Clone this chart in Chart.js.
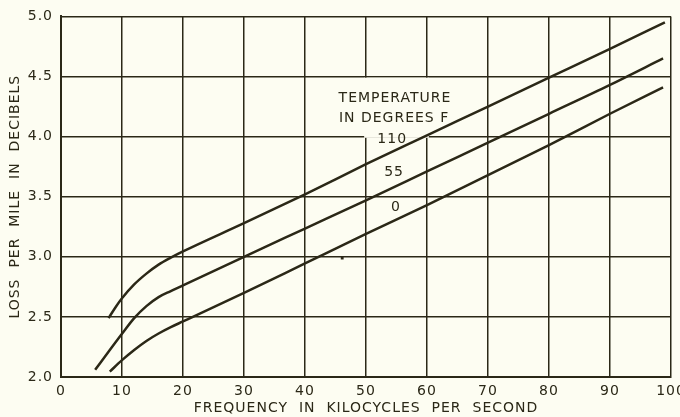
<!DOCTYPE html>
<html>
<head>
<meta charset="utf-8">
<script src="https://cdn.jsdelivr.net/npm/chart.js@4.4.1/dist/chart.umd.min.js"></script>
<style>
  html, body { margin: 0; padding: 0; background: #fdfdf2; }
  canvas { display: block; }
</style>
</head>
<body>
<canvas id="lossChart" width="680" height="417"></canvas>
<script>
// Curves: frequency in kc, loss in dB per mile
const freq110 = [7.8, 9, 10, 12, 14, 16, 18, 20, 30, 40, 50, 60, 70, 80, 90, 99];
const loss110 = [2.49, 2.585, 2.655, 2.77, 2.86, 2.935, 2.993, 3.045, 3.28, 3.52, 3.77, 4.01, 4.25, 4.49, 4.73, 4.95];

const freq55 = [5.6, 8, 10, 12, 14, 16, 18, 20, 30, 40, 50, 60, 70, 80, 90, 98.7];
const loss55 = [2.06, 2.225, 2.36, 2.49, 2.59, 2.665, 2.715, 2.762, 3.0, 3.235, 3.47, 3.71, 3.95, 4.19, 4.43, 4.65];

const freq0 = [8, 10, 12, 14, 16, 18, 20, 30, 40, 50, 60, 70, 80, 90, 98.7];
const loss0 = [2.045, 2.14, 2.225, 2.30, 2.362, 2.415, 2.462, 2.70, 2.945, 3.19, 3.43, 3.68, 3.93, 4.19, 4.41];

// small ink speck on the original sheet
const speckX = [46.1];
const speckY = [2.99];

const xTicks = [0, 10, 20, 30, 40, 50, 60, 70, 80, 90, 100];
const yTicks = [2.0, 2.5, 3.0, 3.5, 4.0, 4.5, 5.0];

const legendLines = ['TEMPERATURE', 'IN DEGREES F'];
const curveNames = ['110', '55', '0'];

const INK = '#2b2817';
const PAPER = '#fdfdf2';
const FONT = 'DejaVu Sans';

function toPoints(xs, ys) {
    return xs.map((x, i) => ({ x: x, y: ys[i] }));
}

function curve(xs, ys) {
    return {
        type: 'line',
        data: toPoints(xs, ys),
        borderColor: INK,
        borderWidth: 2.5,
        pointRadius: 0,
        fill: false,
        cubicInterpolationMode: 'monotone',
    };
}

// letter spacing for the hand lettering look
const spacingPlugin = {
    id: 'spacing',
    beforeInit(chart) { chart.ctx.letterSpacing = '1px'; },
    beforeUpdate(chart) { chart.ctx.letterSpacing = '1px'; },
    beforeDraw(chart) { chart.ctx.letterSpacing = '1px'; },
};

// blank cell behind the legend text, then the legend text itself
const legendPlugin = {
    id: 'legendText',
    beforeDatasetsDraw(chart) {
        const { ctx, scales: { x, y } } = chart;
        const l = x.getPixelForValue(49.7), r = x.getPixelForValue(60.3);
        const t = y.getPixelForValue(4.49), b = y.getPixelForValue(3.99);
        ctx.save();
        ctx.fillStyle = PAPER;
        ctx.fillRect(l, t, r - l, b - t);
        ctx.restore();
    },
    afterDatasetsDraw(chart) {
        const { ctx, scales: { x, y } } = chart;
        ctx.save();
        ctx.letterSpacing = '1px';
        ctx.fillStyle = INK;
        ctx.font = '14px "' + FONT + '"';
        ctx.textAlign = 'center';
        ctx.textBaseline = 'middle';
        ctx.fillText(legendLines[0], x.getPixelForValue(54.75), y.getPixelForValue(4.318));
        ctx.fillText(legendLines[1], x.getPixelForValue(54.6), y.getPixelForValue(4.153));
        ctx.fillText(curveNames[0], x.getPixelForValue(54.3), y.getPixelForValue(3.98));
        ctx.fillText(curveNames[1], x.getPixelForValue(54.6), y.getPixelForValue(3.70));
        ctx.fillText(curveNames[2], x.getPixelForValue(54.9), y.getPixelForValue(3.41));
        ctx.restore();
    },
};

new Chart(document.getElementById('lossChart'), {
    type: 'line',
    data: {
        datasets: [
            curve(freq110, loss110),
            curve(freq55, loss55),
            curve(freq0, loss0),
            {
                type: 'scatter',
                data: toPoints(speckX, speckY),
                pointStyle: 'rect',
                pointRadius: 2,
                backgroundColor: INK,
                borderWidth: 0,
            },
        ],
    },
    options: {
        responsive: false,
        animation: false,
        layout: { padding: { top: 15, right: 9, left: 0, bottom: 0 } },
        plugins: {
            legend: { display: false },
            tooltip: { enabled: false },
        },
        scales: {
            x: {
                type: 'linear',
                min: 0,
                max: 100,
                afterBuildTicks(scale) { scale.ticks = xTicks.map(v => ({ value: v })); },
                afterFit(scale) {
                    scale.height = 40;
                    scale.paddingLeft = 0;
                    scale.paddingRight = 0;
                },
                grid: { color: INK, lineWidth: 1.5, drawTicks: false },
                border: { color: INK, width: 2 },
                ticks: {
                    color: INK,
                    padding: 6,
                    maxRotation: 0,
                    autoSkip: false,
                    font: { family: FONT, size: 14 },
                },
                title: {
                    display: true,
                    text: 'FREQUENCY  IN  KILOCYCLES  PER  SECOND',
                    color: INK,
                    font: { family: FONT, size: 14 },
                    padding: { top: 0, bottom: 0 },
                },
            },
            y: {
                type: 'linear',
                min: 2,
                max: 5,
                afterBuildTicks(scale) { scale.ticks = yTicks.map(v => ({ value: v })); },
                afterFit(scale) { scale.width = 61; },
                grid: { color: INK, lineWidth: 1.5, drawTicks: false },
                border: { color: INK, width: 2 },
                ticks: {
                    color: INK,
                    padding: 8,
                    font: { family: FONT, size: 14 },
                    callback: v => v.toFixed(1),
                },
                title: {
                    display: true,
                    text: 'LOSS  PER  MILE  IN  DECIBELS',
                    color: INK,
                    font: { family: FONT, size: 14 },
                    padding: { top: 7, bottom: 0 },
                },
            },
        },
    },
    plugins: [spacingPlugin, legendPlugin],
});
</script>
</body>
</html>
